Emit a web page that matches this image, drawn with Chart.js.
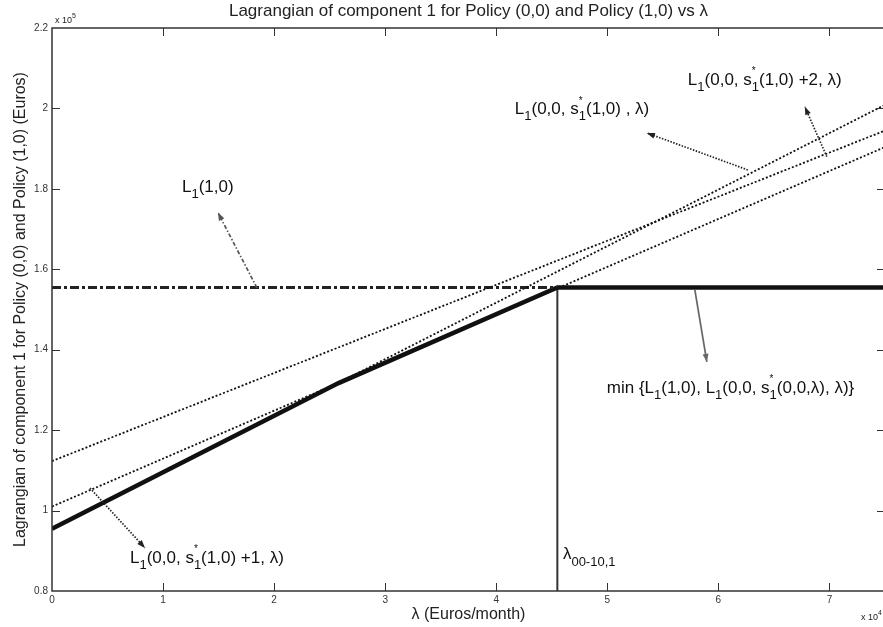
<!DOCTYPE html>
<html>
<head>
<meta charset="utf-8">
<script src="https://cdn.jsdelivr.net/npm/chart.js@4.4.0/dist/chart.umd.min.js"></script>
<style>
  html, body { margin: 0; padding: 0; background: #fff; overflow: hidden; }
</style>
</head>
<body>
<canvas id="lagChart" width="890" height="627"></canvas>
<script>
// values: lambda in 1e4 Euros/month, Lagrangian in 1e5 Euros
const lineEndsX = [0, 7.5];
const lagPlus2 = [0.955, 2.009];     // steepest dotted line
const lagBase = [1.123, 1.945];      // L1(0,0,s*(1,0),lambda)
const lagPlus1 = [1.010, 1.904];     // L1(0,0,s*(1,0)+1,lambda)
const lag10X = [0, 4.55];
const lag10 = [1.555, 1.555];        // L1(1,0), dash-dot
const minX = [0, 2.58, 4.55, 7.5];
const minY = [0.955, 1.317, 1.555, 1.555];
const switchX = [4.55, 4.55];
const switchY = [0.8, 1.555];
const xTicks = [0, 1, 2, 3, 4, 5, 6, 7];
const yTicks = [0.8, 1, 1.2, 1.4, 1.6, 1.8, 2, 2.2];

const FONT = '"Liberation Sans", Arial, Helvetica, sans-serif';

function pts(xs, ys) {
  return xs.map((x, i) => ({ x: x, y: ys[i] }));
}

// labels: text parts, position (data coords), arrow from/to (data coords)
const notes = [
  { parts: ['L', { sub: '1' }, '(1,0)'], at: [1.17, 1.805],
    arrow: [[1.845, 1.554], [1.494, 1.741]], dash: [4, 2, 1.5, 2], color: '#555' },
  { parts: ['L', { sub: '1' }, '(0,0, s', { sup: '*', sub: '1' }, '(1,0) , λ)'], at: [4.167, 1.997],
    arrow: [[6.265, 1.847], [5.356, 1.939]], dash: [1.5, 1.5], color: '#222' },
  { parts: ['L', { sub: '1' }, '(0,0, s', { sup: '*', sub: '1' }, '(1,0) +2, λ)'], at: [5.725, 2.071],
    arrow: [[6.976, 1.880], [6.778, 2.004]], dash: [1.5, 1.5], color: '#222' },
  { parts: ['L', { sub: '1' }, '(0,0, s', { sup: '*', sub: '1' }, '(1,0) +1, λ)'], at: [0.702, 0.882],
    arrow: [[0.342, 1.056], [0.837, 0.907]], dash: [1.5, 1.5], color: '#222' },
  { parts: ['min {L', { sub: '1' }, '(1,0), L', { sub: '1' }, '(0,0, s', { sup: '*', sub: '1' }, '(0,0,λ), λ)}'], at: [4.995, 1.305],
    arrow: [[5.788, 1.549], [5.896, 1.370]], dash: [], color: '#666' },
  { parts: ['λ', { sub: '00-10,1' }], at: [4.6, 0.89] }
];

function drawRich(ctx, x, y, parts, size) {
  let cx = x;
  const small = Math.round(size * 0.75);
  parts.forEach(p => {
    if (typeof p === 'string') {
      ctx.font = size + 'px ' + FONT;
      ctx.fillText(p, cx, y);
      cx += ctx.measureText(p).width;
    } else {
      ctx.font = small + 'px ' + FONT;
      let w = 0;
      if (p.sub) {
        ctx.fillText(p.sub, cx, y + size * 0.42);
        w = Math.max(w, ctx.measureText(p.sub).width);
      }
      if (p.sup) {
        ctx.font = Math.round(size * 0.6) + 'px ' + FONT;
        ctx.fillText(p.sup, cx, y - size * 0.5);
        w = Math.max(w, ctx.measureText(p.sup).width);
      }
      cx += w;
    }
  });
}

function arrow(ctx, x0, y0, x1, y1, dash, color) {
  ctx.save();
  ctx.strokeStyle = color;
  ctx.fillStyle = color;
  ctx.lineWidth = 1.7;
  ctx.setLineDash(dash);
  ctx.beginPath();
  ctx.moveTo(x0, y0);
  ctx.lineTo(x1, y1);
  ctx.stroke();
  ctx.setLineDash([]);
  const ang = Math.atan2(y1 - y0, x1 - x0);
  const len = 8, half = 3;
  ctx.beginPath();
  ctx.moveTo(x1, y1);
  ctx.lineTo(x1 - len * Math.cos(ang) + half * Math.sin(ang), y1 - len * Math.sin(ang) - half * Math.cos(ang));
  ctx.lineTo(x1 - len * Math.cos(ang) - half * Math.sin(ang), y1 - len * Math.sin(ang) + half * Math.cos(ang));
  ctx.closePath();
  ctx.fill();
  ctx.restore();
}

const framePlugin = {
  id: 'frame',
  afterDatasetsDraw(chart) {
    const ctx = chart.ctx;
    const a = chart.chartArea;
    const xs = chart.scales.x, ys = chart.scales.y;
    ctx.save();
    ctx.strokeStyle = '#333';
    ctx.lineWidth = 1.5;
    ctx.strokeRect(a.left, a.top, a.right - a.left, a.bottom - a.top);
    ctx.lineWidth = 1;
    ctx.beginPath();
    xTicks.forEach(v => {
      const px = Math.round(xs.getPixelForValue(v)) + 0.5;
      if (v === 0) return;
      ctx.moveTo(px, a.bottom); ctx.lineTo(px, a.bottom - 8);
      ctx.moveTo(px, a.top); ctx.lineTo(px, a.top + 8);
    });
    yTicks.forEach(v => {
      const py = Math.round(ys.getPixelForValue(v)) + 0.5;
      if (v === 0.8 || v === 2.2) return;
      ctx.moveTo(a.left, py); ctx.lineTo(a.left + 8, py);
      ctx.moveTo(a.right, py); ctx.lineTo(a.right - 8, py);
    });
    ctx.stroke();

    // exponent labels
    ctx.fillStyle = '#222';
    ctx.textBaseline = 'alphabetic';
    ctx.textAlign = 'left';
    ctx.font = '9px ' + FONT;
    ctx.fillText('x 10', a.left + 3, 23);
    let w = ctx.measureText('x 10').width;
    ctx.font = '7px ' + FONT;
    ctx.fillText('5', a.left + 3 + w, 18);
    ctx.font = '9px ' + FONT;
    ctx.fillText('x 10', 861, 620);
    w = ctx.measureText('x 10').width;
    ctx.font = '7px ' + FONT;
    ctx.fillText('4', 861 + w, 615);

    // annotations
    ctx.textBaseline = 'middle';
    notes.forEach(n => {
      if (n.arrow) {
        arrow(ctx,
          xs.getPixelForValue(n.arrow[0][0]), ys.getPixelForValue(n.arrow[0][1]),
          xs.getPixelForValue(n.arrow[1][0]), ys.getPixelForValue(n.arrow[1][1]),
          n.dash, n.color);
      }
      ctx.fillStyle = '#111';
      drawRich(ctx, xs.getPixelForValue(n.at[0]), ys.getPixelForValue(n.at[1]), n.parts, 17);
    });
    ctx.restore();
  }
};

const dotted = { borderColor: '#111', borderWidth: 1.8, borderDash: [2, 2] };

new Chart(document.getElementById('lagChart'), {
  type: 'scatter',
  data: {
    datasets: [
      Object.assign({ data: pts(lineEndsX, lagPlus2) }, dotted),
      Object.assign({ data: pts(lineEndsX, lagBase) }, dotted),
      Object.assign({ data: pts(lineEndsX, lagPlus1) }, dotted),
      { data: pts(lag10X, lag10), borderColor: '#222', borderWidth: 3, borderDash: [9, 3, 3, 3] },
      { data: pts(minX, minY), borderColor: '#111', borderWidth: 4.5 },
      { data: pts(switchX, switchY), borderColor: '#333', borderWidth: 2 }
    ].map(d => Object.assign(d, { showLine: true, pointRadius: 0, fill: false, tension: 0 }))
  },
  options: {
    responsive: false,
    animation: false,
    layout: { padding: { left: 0, right: 5, top: 0, bottom: 0 } },
    plugins: {
      legend: { display: false },
      tooltip: { enabled: false },
      title: {
        display: true,
        fullSize: false,
        text: 'Lagrangian of component 1 for Policy (0,0) and Policy (1,0) vs λ',
        color: '#222',
        font: { family: FONT, size: 17, weight: 'normal', lineHeight: 1.2 },
        padding: { top: 1, bottom: 6.6 }
      }
    },
    scales: {
      x: {
        type: 'linear',
        min: 0,
        max: 7.5,
        grid: { display: false, drawTicks: false },
        border: { display: false },
        afterFit: s => { s.height = 36; },
        afterBuildTicks: s => { s.ticks = xTicks.map(v => ({ value: v })); },
        ticks: { padding: 3, color: '#333', font: { family: FONT, size: 10 }, maxRotation: 0 },
        title: {
          display: true,
          text: 'λ (Euros/month)',
          color: '#222',
          font: { family: FONT, size: 16 },
          padding: { top: 0, bottom: 3 }
        }
      },
      y: {
        type: 'linear',
        min: 0.8,
        max: 2.2,
        grid: { display: false, drawTicks: false },
        border: { display: false },
        afterFit: s => { s.width = 52; },
        afterBuildTicks: s => { s.ticks = yTicks.map(v => ({ value: v })); },
        ticks: {
          padding: 4,
          color: '#333',
          font: { family: FONT, size: 10 },
          callback: v => String(parseFloat(v.toFixed(1)))
        },
        title: {
          display: true,
          text: 'Lagrangian of component 1 for Policy (0,0) and Policy (1,0) (Euros)',
          color: '#222',
          font: { family: FONT, size: 16 },
          padding: { top: 11, bottom: 0 }
        }
      }
    }
  },
  plugins: [framePlugin]
});
</script>
</body>
</html>
